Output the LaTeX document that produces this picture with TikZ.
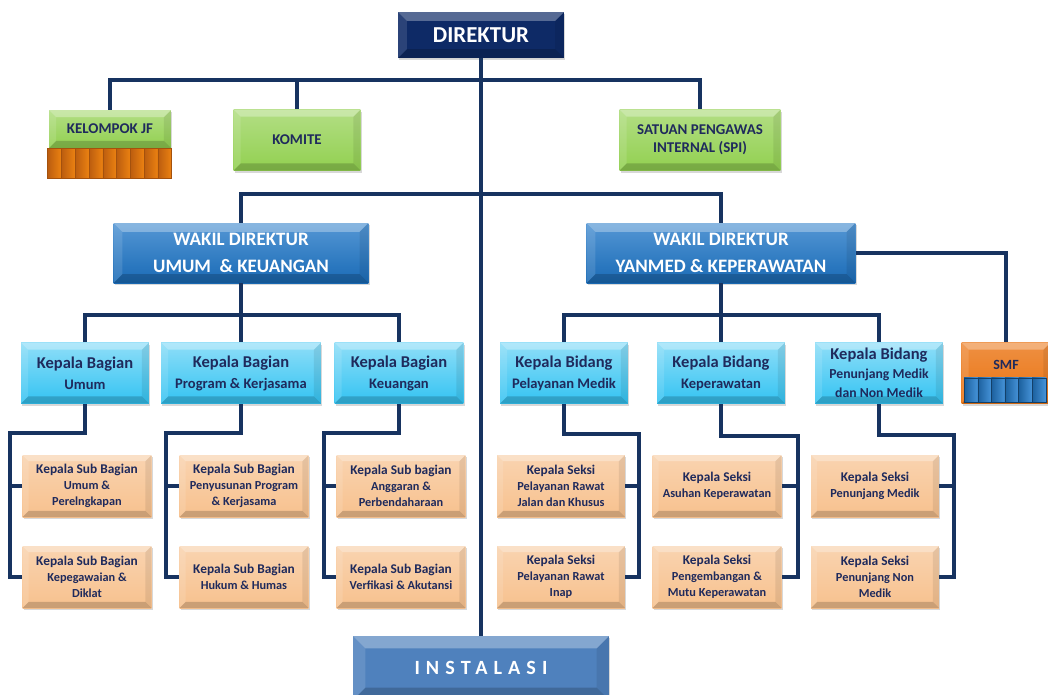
\documentclass[tikz,border=0pt]{standalone}
\usepackage{fontspec}
\setmainfont{Carlito}
\usetikzlibrary{positioning,calc,shadows}

\definecolor{linenavy}{HTML}{173360}
\definecolor{dirnavy}{HTML}{0E2A66}
\definecolor{wakblue}{HTML}{1C74C6}
\definecolor{kbcyan}{HTML}{33C3F2}
\definecolor{subtan}{HTML}{F7C18E}
\definecolor{jfgreen}{HTML}{92D050}
\definecolor{smforange}{HTML}{EA7413}
\definecolor{smfblue}{HTML}{2580D2}
\definecolor{instblue}{HTML}{4F81BD}
\definecolor{txtnavy}{HTML}{1F2A5C}

\tikzset{
  bevel/.style={path picture={
    \coordinate (bvnw) at (path picture bounding box.north west);
    \coordinate (bvne) at (path picture bounding box.north east);
    \coordinate (bvsw) at (path picture bounding box.south west);
    \coordinate (bvse) at (path picture bounding box.south east);
    \fill[white,opacity=.30] (bvnw) -- (bvne) -- ([shift={(-#1,-#1)}]bvne) -- ([shift={(#1,-#1)}]bvnw) -- cycle;
    \fill[white,opacity=.12] (bvnw) -- ([shift={(#1,-#1)}]bvnw) -- ([shift={(#1,#1)}]bvsw) -- (bvsw) -- cycle;
    \fill[black,opacity=.08] (bvne) -- (bvse) -- ([shift={(-#1,#1)}]bvse) -- ([shift={(-#1,-#1)}]bvne) -- cycle;
    \fill[black,opacity=.18] (bvsw) -- (bvse) -- ([shift={(-#1,#1)}]bvse) -- ([shift={(#1,#1)}]bvsw) -- cycle;
  }},
  bevel/.default=4pt,
  box/.style={rectangle, inner sep=1pt, align=center,
    drop shadow={opacity=.3,shadow xshift=.6pt,shadow yshift=-1.4pt}},
  dirbox/.style={box, bevel=5pt, fill=dirnavy, text=white,
    minimum width=3.32cm, minimum height=.92cm,
    font=\bfseries\fontsize{13}{15}\selectfont},
  greenbox/.style={box, bevel=4pt, top color=jfgreen!70!white, bottom color=jfgreen,
    text=txtnavy, minimum height=1.22cm, font=\bfseries\fontsize{8.5}{10.5}\selectfont},
  wakbox/.style={box, bevel=5pt, top color=wakblue!75!white, bottom color=wakblue!92!black,
    text=white, minimum height=1.2cm,
    font=\bfseries\fontsize{10.8}{15.3}\selectfont},
  kbbox/.style={box, bevel=4pt, top color=kbcyan!55!white, bottom color=kbcyan,
    text=txtnavy, minimum width=2.56cm, minimum height=1.22cm,
    font=\bfseries\fontsize{8.3}{12}\selectfont},
  subbox/.style={box, bevel=3.5pt, top color=subtan!70!white, bottom color=subtan,
    text=txtnavy, minimum width=2.58cm, minimum height=1.24cm,
    font=\bfseries\fontsize{7}{9}\selectfont},
  conn/.style={draw=linenavy, line width=2pt}
}
\newcommand{\hd}[1]{{\fontsize{9.4}{11}\selectfont #1}}
\newcommand{\sh}[1]{{\fontsize{7.6}{9}\selectfont #1}}

\begin{document}
\begin{tikzpicture}[x=0.02cm,y=-0.02cm]
    \useasboundingbox (0,0) rectangle (1048,694);
    \clip (0,0) rectangle (1048,694);
    \fill[white] (0,0) rectangle (1048,694);
    % Pimpinan
    \node[dirbox] (dir) at (481,35) {DIREKTUR};
    \node[box, fill=instblue, bevel=7pt, text=white, minimum width=5.12cm, minimum height=1.28cm,
      font=\bfseries\fontsize{11.5}{13}\selectfont\addfontfeatures{LetterSpace=30}] (inst) at (481,668) {INSTALASI};
    % Kelompok JF, Komite, SPI
    \node[greenbox, minimum width=2.44cm, minimum height=.76cm] (jf) at (110,129) {KELOMPOK JF};
    \foreach \i in {0,...,8}
      \draw[left color=smforange!80!black, right color=smforange!90!yellow, draw=smforange!70!black, line width=.3pt]
        ($(jf.south west)+(-1+\i*13.78,0)$) rectangle ++(13.78,30);
    \node[greenbox, minimum width=2.54cm] (komite) at (297,140) {KOMITE};
    \node[greenbox, minimum width=3.22cm] (spi) at (700,140) {SATUAN PENGAWAS\\INTERNAL (SPI)};
    \coordinate (bus1) at (481,80);
    \draw[conn] (jf.north) |- (bus1) -| (spi.north);
    \draw[conn] (komite.north) -- (komite.north |- bus1);
    % Wakil Direktur
    \node[wakbox, minimum width=5.10cm] (wk1) at (241,253) {WAKIL DIREKTUR\\UMUM \ \& KEUANGAN};
    \node[wakbox, minimum width=5.38cm] (wk2) at (721,253) {WAKIL DIREKTUR\\YANMED \& KEPERAWATAN};
    \coordinate (bus2) at (481,194);
    \draw[conn] (wk1.north) |- (bus2) -| (wk2.north);
    \draw[conn] (dir.south) -- (inst.north);
    % Kepala Bagian
    \node[kbbox] (kb1) at (85,373) {\hd{Kepala Bagian}\\Umum};
    \node[kbbox, minimum width=3.2cm] (kb2) at (241,373) {\hd{Kepala Bagian}\\Program \& Kerjasama};
    \node[kbbox, minimum width=2.58cm] (kb3) at (399,373) {\hd{Kepala Bagian}\\Keuangan};
    \draw[conn] (wk1.south) -- (kb2.north);
    \draw[conn] (kb1.north) |- (241,315) -| (kb3.north);
    % Kepala Bidang
    \node[kbbox] (kd1) at (564,373) {\hd{Kepala Bidang}\\Pelayanan Medik};
    \node[kbbox] (kd2) at (721,373) {\hd{Kepala Bidang}\\Keperawatan};
    \node[kbbox, font=\bfseries\fontsize{7.8}{10.8}\selectfont] (kd3) at (879,373) {\hd{Kepala Bidang}\\Penunjang Medik\\dan Non Medik};
    \draw[conn] (wk2.south) -- (kd2.north);
    \draw[conn] (kd1.north) |- (721,315) -| (kd3.north);
    % SMF
    \node[box, bevel=4pt, top color=smforange!80!white, bottom color=smforange, text=txtnavy,
      minimum width=1.78cm, minimum height=1.22cm, font=\bfseries\fontsize{8}{9}\selectfont] (smf) at (1006,373) {\raisebox{9pt}{SMF}};
    \foreach \i in {0,...,5}
      \draw[left color=smfblue!75!black, right color=smfblue!85!white, draw=smfblue!50!black, line width=.3pt]
        ($(smf.south west)+(3+\i*13.6,-2)$) rectangle ++(13.6,-24);
    \draw[conn] (wk2.east) -| (smf.north);
    % Kepala Sub Bagian
    \node[subbox] (sb11) at (87,486) {\sh{Kepala Sub Bagian}\\Umum \&\\Perelngkapan};
    \node[subbox] (sb12) at (87,577) {\sh{Kepala Sub Bagian}\\Kepegawaian \&\\Diklat};
    \node[subbox] (sb21) at (244,486) {\sh{Kepala Sub Bagian}\\Penyusunan Program\\\& Kerjasama};
    \node[subbox] (sb22) at (244,577) {\sh{Kepala Sub Bagian}\\Hukum \& Humas};
    \node[subbox] (sb31) at (401,486) {\sh{Kepala Sub bagian}\\Anggaran \&\\Perbendaharaan};
    \node[subbox] (sb32) at (401,577) {\sh{Kepala Sub Bagian}\\Verfikasi \& Akutansi};
    \coordinate (lt1) at (10,433);
    \coordinate (lt2) at (166,433);
    \coordinate (lt3) at (324,433);
    \foreach \p/\c/\a/\b in {kb1/lt1/sb11/sb12, kb2/lt2/sb21/sb22, kb3/lt3/sb31/sb32} {
      \draw[conn] (\p.south) |- (\c) |- (\b.west);
      \draw[conn] (\a.west) -- (\a.west -| \c);
    }
    % Kepala Seksi
    \node[subbox, minimum width=2.56cm] (ks11) at (561,486) {\sh{Kepala Seksi}\\Pelayanan Rawat\\Jalan dan Khusus};
    \node[subbox, minimum width=2.56cm] (ks12) at (561,577) {\sh{Kepala Seksi}\\Pelayanan Rawat\\Inap};
    \node[subbox] (ks21) at (717,486) {\sh{Kepala Seksi}\\Asuhan Keperawatan};
    \node[subbox] (ks22) at (717,577) {\sh{Kepala Seksi}\\Pengembangan \&\\Mutu Keperawatan};
    \node[subbox, minimum width=2.56cm] (ks31) at (875,486) {\sh{Kepala Seksi}\\Penunjang Medik};
    \node[subbox, minimum width=2.56cm] (ks32) at (875,577) {\sh{Kepala Seksi}\\Penunjang Non\\Medik};
    \coordinate (rt1) at (639,434);
    \coordinate (rt2) at (798,436);
    \coordinate (rt3) at (954,435);
    \foreach \p/\c/\a/\b in {kd1/rt1/ks11/ks12, kd2/rt2/ks21/ks22, kd3/rt3/ks31/ks32} {
      \draw[conn] (\p.south) |- (\c) |- (\b.east);
      \draw[conn] (\a.east) -- (\a.east -| \c);
    }
\end{tikzpicture}
\end{document}
